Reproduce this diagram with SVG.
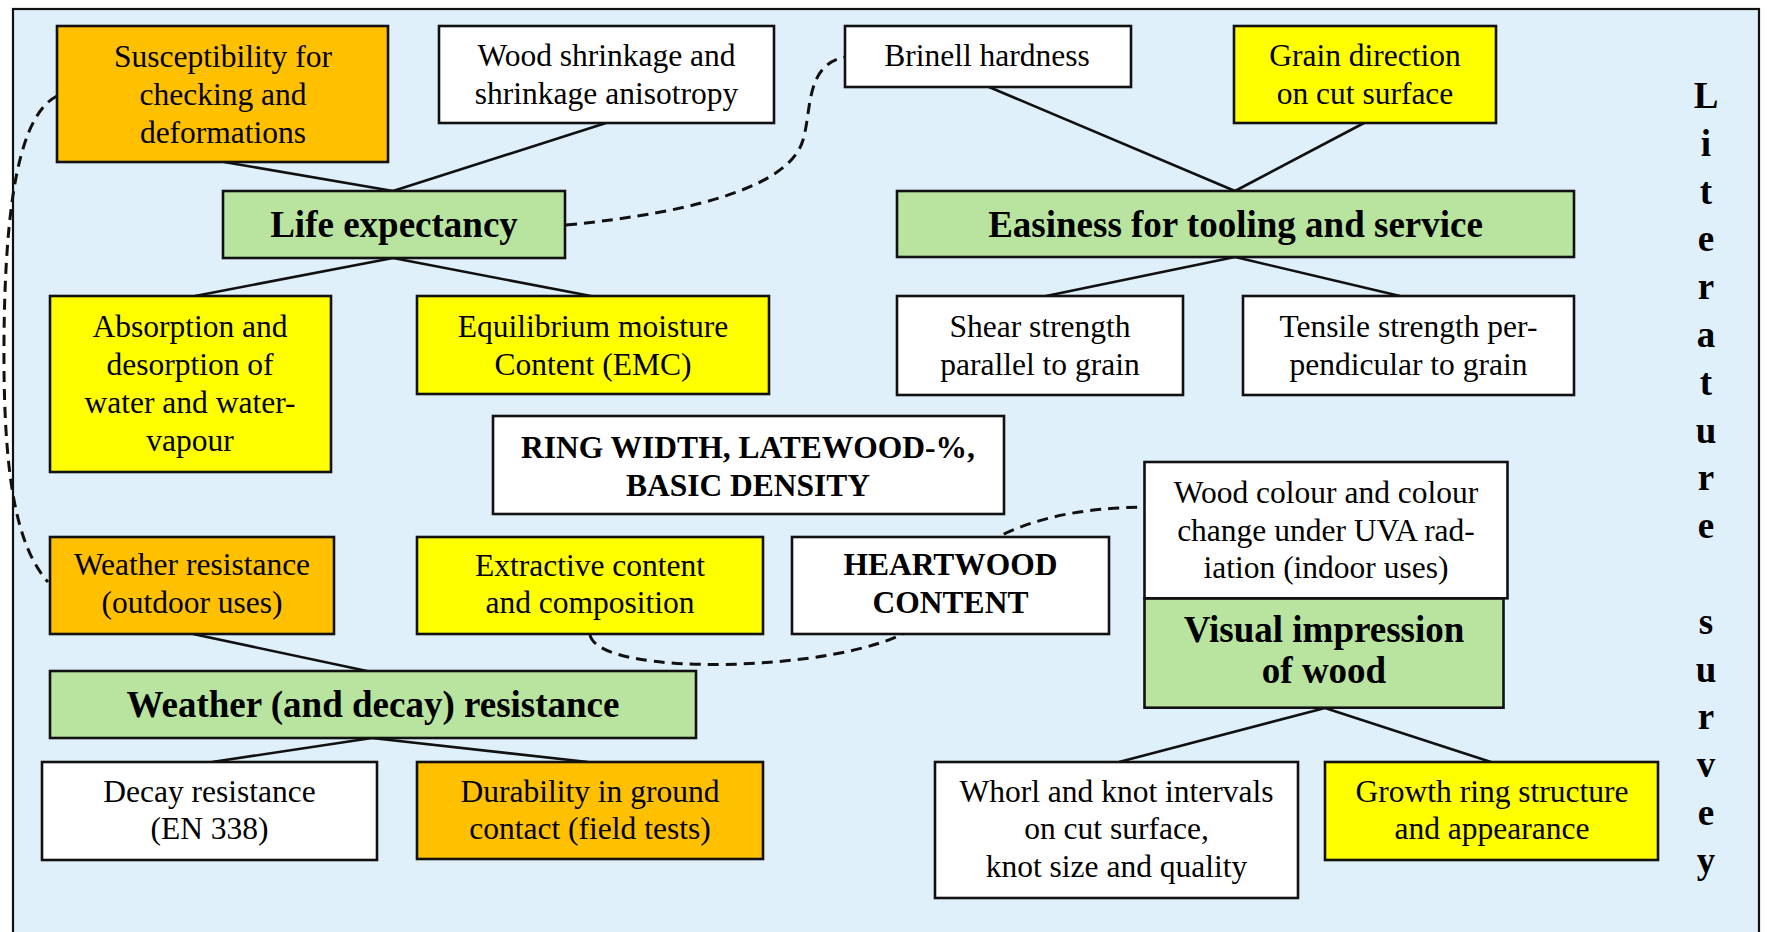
<svg xmlns="http://www.w3.org/2000/svg" width="1768" height="932" viewBox="0 0 1768 932">
<style>
.box{stroke:#111;stroke-width:2.6}
.w{fill:#ffffff}.y{fill:#ffff00}.o{fill:#ffc000}.g{fill:#b8e4a0}
text{font-family:"Liberation Serif","Times New Roman",serif;fill:#000;text-anchor:middle}
.t{font-size:31.5px}
.b{font-size:37px;font-weight:bold}
.c{font-size:31.5px;font-weight:bold}
.ln{stroke:#111;stroke-width:2.6;fill:none}
.d{stroke:#111;stroke-width:3;fill:none;stroke-dasharray:11 7}
</style>
<rect x="0" y="0" width="1768" height="932" fill="#ffffff"/>
<rect x="13" y="9" width="1746" height="940" fill="#e0f0fa" stroke="#111" stroke-width="2.2"/>
<g id="connectors">
<line class="ln" x1="224" y1="162" x2="393" y2="191"/>
<line class="ln" x1="606" y1="123" x2="393" y2="191"/>
<line class="ln" x1="393" y1="258" x2="195" y2="296"/>
<line class="ln" x1="393" y1="258" x2="591" y2="296"/>
<line class="ln" x1="989" y1="87" x2="1235" y2="191"/>
<line class="ln" x1="1364" y1="123" x2="1235" y2="191"/>
<line class="ln" x1="1235" y1="257" x2="1046" y2="296"/>
<line class="ln" x1="1235" y1="257" x2="1400" y2="296"/>
<line class="ln" x1="193" y1="634" x2="367" y2="671"/>
<line class="ln" x1="372" y1="738" x2="212" y2="762"/>
<line class="ln" x1="372" y1="738" x2="588" y2="762"/>
<line class="ln" x1="1325" y1="708" x2="1119" y2="762"/>
<line class="ln" x1="1325" y1="708" x2="1491" y2="762"/>
<path class="d" d="M 566,225 C 700,212 790,185 803,140 C 812,110 805,65 845,57"/>
<path class="d" d="M 57,96 C 20,115 5,200 4,340 C 3,470 15,545 48,582"/>
<path class="d" d="M 590,635 C 600,678 840,672 910,630 C 960,598 975,548 1002,535 C 1050,512 1100,508 1145,507"/>
</g>
<g id="n-susceptibility"><rect class="box o" x="57" y="26" width="331" height="136"/>
<text class="t"><tspan x="223" y="66.5">Susceptibility for</tspan><tspan x="223" y="104.8">checking and</tspan><tspan x="223" y="143.1">deformations</tspan></text></g>
<g id="n-shrinkage"><rect class="box w" x="439" y="26" width="335" height="97"/>
<text class="t"><tspan x="606.5" y="66">Wood shrinkage and</tspan><tspan x="606.5" y="104">shrinkage anisotropy</tspan></text></g>
<g id="n-brinell"><rect class="box w" x="845" y="26" width="286" height="61"/>
<text class="t" x="987" y="66">Brinell hardness</text></g>
<g id="n-grain"><rect class="box y" x="1234" y="26" width="262" height="97"/>
<text class="t"><tspan x="1365" y="66">Grain direction</tspan><tspan x="1365" y="104">on cut surface</tspan></text></g>
<g id="n-life"><rect class="box g" x="223" y="191" width="342" height="67"/>
<text class="b" x="394" y="237">Life expectancy</text></g>
<g id="n-easiness"><rect class="box g" x="897" y="191" width="677" height="66"/>
<text class="b" x="1235.5" y="237">Easiness for tooling and service</text></g>
<g id="n-absorption"><rect class="box y" x="50" y="296" width="281" height="176"/>
<text class="t"><tspan x="190" y="336.7">Absorption and</tspan><tspan x="190" y="374.6">desorption of</tspan><tspan x="190" y="412.6">water and water-</tspan><tspan x="190" y="450.6">vapour</tspan></text></g>
<g id="n-emc"><rect class="box y" x="417" y="296" width="352" height="98"/>
<text class="t"><tspan x="593" y="336.7">Equilibrium moisture</tspan><tspan x="593" y="374.5">Content (EMC)</tspan></text></g>
<g id="n-shear"><rect class="box w" x="897" y="296" width="286" height="99"/>
<text class="t"><tspan x="1040" y="336.7">Shear strength</tspan><tspan x="1040" y="374.5">parallel to grain</tspan></text></g>
<g id="n-tensile"><rect class="box w" x="1243" y="296" width="331" height="99"/>
<text class="t"><tspan x="1408.5" y="336.7">Tensile strength per-</tspan><tspan x="1408.5" y="374.5">pendicular to grain</tspan></text></g>
<g id="n-ring"><rect class="box w" x="493" y="416" width="511" height="98"/>
<text class="c"><tspan x="748" y="458.3">RING WIDTH, LATEWOOD-%,</tspan><tspan x="748" y="495.8">BASIC DENSITY</tspan></text></g>
<g id="n-weather-res"><rect class="box o" x="50" y="537" width="284" height="97"/>
<text class="t"><tspan x="192" y="575">Weather resistance</tspan><tspan x="192" y="613.3">(outdoor uses)</tspan></text></g>
<g id="n-extractive"><rect class="box y" x="417" y="537" width="346" height="97"/>
<text class="t"><tspan x="590" y="575.5">Extractive content</tspan><tspan x="590" y="613.3">and composition</tspan></text></g>
<g id="n-heartwood"><rect class="box w" x="792" y="537" width="317" height="97"/>
<text class="c"><tspan x="950.5" y="575">HEARTWOOD</tspan><tspan x="950.5" y="613.3">CONTENT</tspan></text></g>
<g id="n-visual"><rect class="box g" x="1144.5" y="598.3" width="359" height="109.4"/>
<text class="b"><tspan x="1324" y="641.7">Visual impression</tspan><tspan x="1324" y="683.3">of wood</tspan></text></g>
<g id="n-colour"><rect class="box w" x="1144.5" y="462" width="363" height="136.3"/>
<text class="t"><tspan x="1326" y="503.3">Wood colour and colour</tspan><tspan x="1326" y="540.5">change under UVA rad-</tspan><tspan x="1326" y="578">iation (indoor uses)</tspan></text></g>
<g id="n-weather-decay"><rect class="box g" x="50" y="671" width="646" height="67"/>
<text class="b" x="373" y="717">Weather (and decay) resistance</text></g>
<g id="n-decay"><rect class="box w" x="42" y="762" width="335" height="98"/>
<text class="t"><tspan x="209.5" y="801.7">Decay resistance</tspan><tspan x="209.5" y="839.3">(EN 338)</tspan></text></g>
<g id="n-durability"><rect class="box o" x="417" y="762" width="346" height="97"/>
<text class="t"><tspan x="590" y="801.7">Durability in ground</tspan><tspan x="590" y="839.3">contact (field tests)</tspan></text></g>
<g id="n-whorl"><rect class="box w" x="935" y="762" width="363" height="136"/>
<text class="t"><tspan x="1116.5" y="801.7">Whorl and knot intervals</tspan><tspan x="1116.5" y="839.3">on cut surface,</tspan><tspan x="1116.5" y="877.3">knot size and quality</tspan></text></g>
<g id="n-growth"><rect class="box y" x="1325" y="762" width="333" height="98"/>
<text class="t"><tspan x="1492" y="801.7">Growth ring structure</tspan><tspan x="1492" y="839.3">and appearance</tspan></text></g>
<g id="label-literature-survey">
<text class="b" x="1706" y="108"><tspan x="1706" y="108">L</tspan><tspan x="1706" y="155.8">i</tspan><tspan x="1706" y="203.6">t</tspan><tspan x="1706" y="251.4">e</tspan><tspan x="1706" y="299.2">r</tspan><tspan x="1706" y="347">a</tspan><tspan x="1706" y="394.8">t</tspan><tspan x="1706" y="442.6">u</tspan><tspan x="1706" y="490.4">r</tspan><tspan x="1706" y="538.2">e</tspan><tspan x="1706" y="633.8">s</tspan><tspan x="1706" y="681.6">u</tspan><tspan x="1706" y="729.4">r</tspan><tspan x="1706" y="777.2">v</tspan><tspan x="1706" y="825">e</tspan><tspan x="1706" y="872.8">y</tspan></text>
</g>
</svg>
